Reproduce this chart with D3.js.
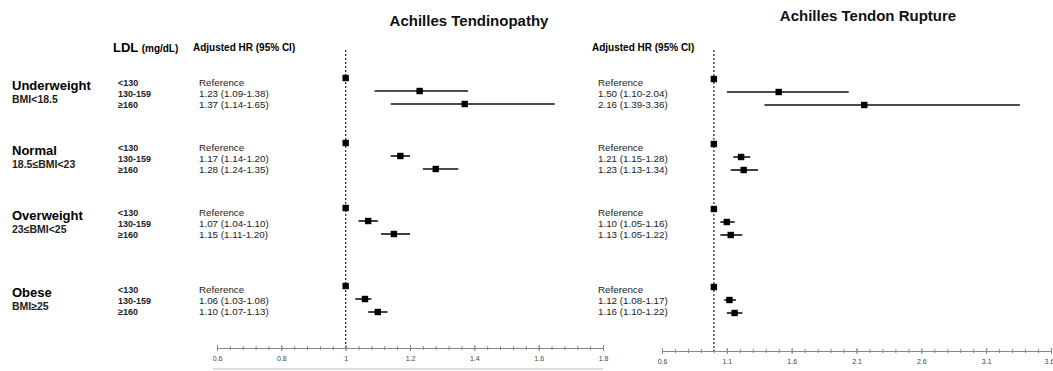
<!DOCTYPE html>
<html>
<head>
<meta charset="utf-8">
<script src="https://cdn.jsdelivr.net/npm/d3@7"></script>
<style>
  body { margin: 0; background: #fff; }
  text { font-family: "Liberation Sans", Arial, sans-serif; }
</style>
</head>
<body>
<div id="forest"></div>
<script>
// Data
const groups = ["Underweight", "Normal", "Overweight", "Obese"];
const groupSub = ["BMI<18.5", "18.5≤BMI<23", "23≤BMI<25", "BMI≥25"];
const ldlCats = ["<130", "130-159", "≥160"];

const tendinopathyHR = [[1, 1.23, 1.37], [1, 1.17, 1.28], [1, 1.07, 1.15], [1, 1.06, 1.10]];
const tendinopathyLo = [[1, 1.09, 1.14], [1, 1.14, 1.24], [1, 1.04, 1.11], [1, 1.03, 1.07]];
const tendinopathyHi = [[1, 1.38, 1.65], [1, 1.20, 1.35], [1, 1.10, 1.20], [1, 1.08, 1.13]];

const ruptureHR = [[1, 1.50, 2.16], [1, 1.21, 1.23], [1, 1.10, 1.13], [1, 1.12, 1.16]];
const ruptureLo = [[1, 1.10, 1.39], [1, 1.15, 1.13], [1, 1.05, 1.05], [1, 1.08, 1.10]];
const ruptureHi = [[1, 2.04, 3.36], [1, 1.28, 1.34], [1, 1.16, 1.22], [1, 1.17, 1.22]];

const tendTicks = [0.6, 0.8, 1, 1.2, 1.4, 1.6, 1.8];
const ruptTicks = [0.6, 1.1, 1.6, 2.1, 2.6, 3.1, 3.6];

const width = 1053, height = 371;

const svg = d3.select("#forest").append("svg")
    .attr("width", width)
    .attr("height", height);

// vertical layout: rows in slots, with extra gap before last group
const groupSlot = [0, 5, 10, 16];
const y = d3.scaleLinear().domain([0, 16]).range([78, 286]);
const rowStep = 10.7;
const textBase = g => y(groupSlot[g]) + (g === 3 ? 4 : 5);

const fmt = d3.format(".2f");

// left labels
svg.append("text")
    .attr("x", 113).attr("y", 47).attr("dy", "0.35em")
    .style("font-weight", "bold").style("font-size", "13px")
    .text("LDL ")
    .append("tspan").style("font-size", "10px").text("(mg/dL)");

groups.forEach((name, g) => {
    const b = textBase(g);
    svg.append("text")
        .attr("x", 12).attr("y", b + 2).attr("dy", "0.35em")
        .style("font-weight", "bold").style("font-size", "13px")
        .text(name);
    svg.append("text")
        .attr("x", 12).attr("y", b + 16).attr("dy", "0.35em")
        .style("font-weight", "bold").style("font-size", "10.5px").attr("fill", "#222")
        .text(groupSub[g]);
    ldlCats.forEach((c, i) => {
        svg.append("text")
            .attr("x", 118).attr("y", b + i * rowStep).attr("dy", "0.35em")
            .style("font-weight", "bold").style("font-size", "9px").attr("fill", "#222")
            .text(c);
    });
});

function drawPanel(opts) {
    const x = d3.scaleLinear().domain(opts.domain).range(opts.range);
    const g = svg.append("g");
    const yOff = opts.yOff;

    g.append("text")
        .attr("x", opts.titleX).attr("y", opts.titleY).attr("dy", "0.35em")
        .attr("text-anchor", "middle")
        .style("font-weight", "bold").style("font-size", "15px").attr("fill", "#111")
        .text(opts.title);

    g.append("text")
        .attr("x", opts.textX - 6).attr("y", 47).attr("dy", "0.35em")
        .style("font-weight", "bold").style("font-size", "10px")
        .text("Adjusted HR (95% CI)");

    // reference line at HR = 1
    g.append("line")
        .attr("x1", x(1)).attr("x2", x(1))
        .attr("y1", 50).attr("y2", opts.axisY)
        .attr("stroke", "#333").attr("stroke-width", 1.3)
        .attr("stroke-dasharray", "2,2");

    // axis: minor ticks then major ticks with labels
    const minor = d3.range(opts.domain[0], opts.domain[1] + 1e-9, opts.minorStep);
    const minorAxis = g.append("g")
        .attr("transform", `translate(0, ${opts.axisY})`)
        .call(d3.axisBottom(x).tickValues(minor).tickSize(2).tickFormat(""));
    const majorAxis = g.append("g")
        .attr("transform", `translate(0, ${opts.axisY})`)
        .call(d3.axisBottom(x).tickValues(opts.ticks).tickSize(3).tickPadding(5)
            .tickFormat(d => d3.format("")(+d.toFixed(1))));
    [minorAxis, majorAxis].forEach(a => {
        a.select(".domain").attr("stroke", "#888");
        a.selectAll(".tick line").attr("stroke", "#888").attr("y1", -2);
        a.selectAll(".tick text").style("font-size", "7px").attr("fill", "#444");
    });
    majorAxis.selectAll(".tick line").attr("y1", -3);
    // keep the last label inside the page edge
    majorAxis.selectAll(".tick text")
        .filter(d => x(d) > width - 8)
        .attr("text-anchor", "end").attr("dx", "0.4em");

    groups.forEach((name, gi) => {
        const b = textBase(gi);
        ldlCats.forEach((c, i) => {
            const hr = opts.hr[gi][i], lo = opts.lo[gi][i], hi = opts.hi[gi][i];
            const ym = y(groupSlot[gi] + i) + yOff;
            const label = i === 0 ? "Reference" : `${fmt(hr)} (${fmt(lo)}-${fmt(hi)})`;
            g.append("text")
                .attr("x", opts.textX).attr("y", b + i * rowStep).attr("dy", "0.35em")
                .style("font-size", "9.8px").attr("fill", "#222")
                .text(label);
            if (i > 0) {
                g.append("line")
                    .attr("x1", x(lo)).attr("x2", x(hi))
                    .attr("y1", ym).attr("y2", ym)
                    .attr("stroke", "#111").attr("stroke-width", 1.6);
            }
            g.append("rect")
                .attr("x", x(hr) - 3.2).attr("y", ym - 3.2)
                .attr("width", 6.4).attr("height", 6.4)
                .attr("fill", "#000");
        });
    });
    return x;
}

drawPanel({
    title: "Achilles Tendinopathy", titleX: 469, titleY: 21,
    domain: [0.6, 1.8], range: [217, 603], ticks: tendTicks, minorStep: 0.04,
    axisY: 348, textX: 199, yOff: 0,
    hr: tendinopathyHR, lo: tendinopathyLo, hi: tendinopathyHi
});

drawPanel({
    title: "Achilles Tendon Rupture", titleX: 868, titleY: 16,
    domain: [0.6, 3.6], range: [662, 1051], ticks: ruptTicks, minorStep: 0.1,
    axisY: 351, textX: 598, yOff: 1,
    hr: ruptureHR, lo: ruptureLo, hi: ruptureHi
});

// grey rule under the left axis
svg.append("line")
    .attr("x1", 213).attr("x2", 603).attr("y1", 369).attr("y2", 369)
    .attr("stroke", "#bbb").attr("stroke-width", 1);
</script>
</body>
</html>
